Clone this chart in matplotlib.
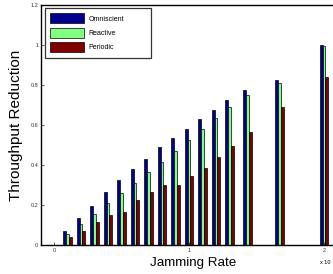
import numpy as np
import matplotlib.pyplot as plt

plt.rcParams['font.family'] = ['Liberation Sans', 'DejaVu Sans']

# Jamming rate (x 10^4) and throughput reduction per scheme
rate = [0.1, 0.2, 0.3, 0.4, 0.5, 0.6, 0.7, 0.8, 0.9, 1.0, 1.1, 1.2, 1.3, 1.43, 1.67, 2.0]
omniscient = [0.07, 0.135, 0.195, 0.265, 0.325, 0.38, 0.43, 0.49, 0.535, 0.58,
              0.63, 0.675, 0.725, 0.775, 0.825, 1.0]
reactive = [0.055, 0.105, 0.155, 0.21, 0.26, 0.31, 0.365, 0.415, 0.47, 0.525,
            0.58, 0.635, 0.69, 0.75, 0.81, 0.995]
periodic = [0.04, 0.07, 0.115, 0.15, 0.165, 0.225, 0.265, 0.30, 0.30, 0.345,
            0.385, 0.44, 0.495, 0.565, 0.69, 0.84]

W, H = 333, 274
fig = plt.figure(figsize=(W / 100, H / 100), dpi=100)
ax = fig.add_axes([41 / W, 29 / H, (345 - 41) / W, 240 / H])

x = np.array(rate)
bw = 0.022
ax.bar(x - bw, omniscient, bw, color='#00008F', edgecolor='black', linewidth=0.5, label='Omniscient')
ax.bar(x, reactive, bw, color='#80FF80', edgecolor='black', linewidth=0.5, label='Reactive')
ax.bar(x + bw, periodic, bw, color='#800000', edgecolor='black', linewidth=0.5, label='Periodic')

ax.set_xlim(-13 / 135, (345 - 54) / 135)
ax.set_ylim(0, 1.2)
ax.set_xticks([0, 1, 2])
ax.set_xticklabels(['0', '1', '2'])
ax.set_yticks([0, 0.2, 0.4, 0.6, 0.8, 1.0, 1.2])
ax.set_yticklabels(['0', '0.2', '0.4', '0.6', '0.8', '1', '1.2'])
ax.tick_params(direction='in', length=2.5, width=0.6, labelsize=4, pad=2, colors='#333333')
for s in ax.spines.values():
    s.set_linewidth(1.0)

ax.set_xlabel('Jamming Rate', fontsize=9.6, labelpad=3)
ax.set_ylabel('Throughput Reduction', fontsize=11, labelpad=5)
fig.text(320 / W, 1 - 262 / H, 'x 10', fontsize=4, va='center', ha='left')

leg = ax.legend(loc='upper left', bbox_to_anchor=(0.013, 0.0, 0.349, 0.9875), mode='expand',
                borderaxespad=0, fontsize=5, fancybox=False, edgecolor='black',
                handlelength=4.9, handleheight=1.9, borderpad=0.75, labelspacing=0.6,
                handletextpad=0.58)
leg.get_frame().set_linewidth(0.9)

fig.savefig('out.png', dpi=100)
